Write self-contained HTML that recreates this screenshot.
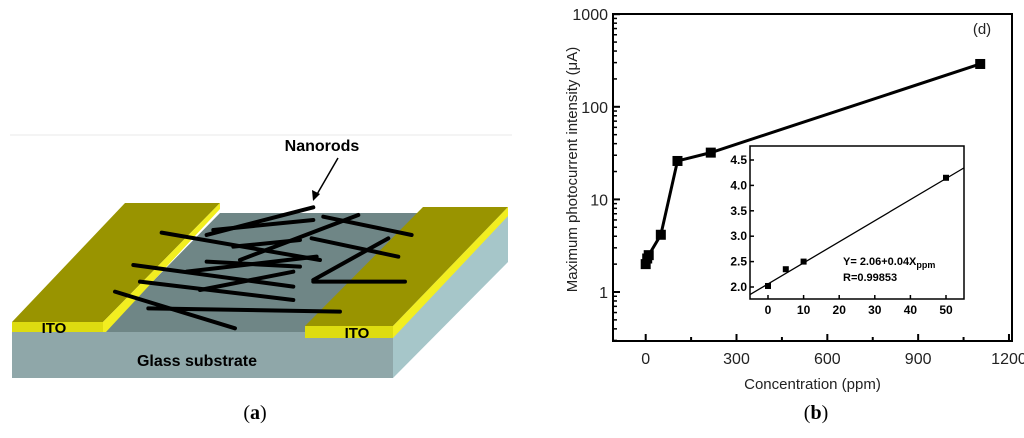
<!DOCTYPE html>
<html><head><meta charset="utf-8"><style>
body{margin:0;background:#fff;width:1024px;height:438px;overflow:hidden;font-family:"Liberation Sans",sans-serif}
svg{position:absolute;left:0;top:0}
</style></head><body>
<svg width="1024" height="438" viewBox="0 0 1024 438">
<g>
  <line x1="10" y1="135" x2="512" y2="135" stroke="#e8e8e8" stroke-width="1"/>
  <polygon points="12,332 393,332 393,378 12,378" fill="#8fa7a9"/>
  <polygon points="393,326 508,207 508,262 393,378" fill="#a6c6c9"/>
  <polygon points="103,332 305,332 423,213 220,213" fill="#6f8686"/>
  <polygon points="12,322 103,322 220,203 125,203" fill="#999400"/>
  <polygon points="12,322 103,322 103,332 12,332" fill="#dedc10"/>
  <polygon points="103,322 220,203 220,209 106,332 103,332" fill="#f2ee20"/>
  <polygon points="305,326 393,326 508,207 423,207" fill="#999400"/>
  <polygon points="305,326 393,326 393,338 305,338" fill="#dedc10"/>
  <polygon points="393,326 508,207 508,216 393,338" fill="#f2ee20"/>
  <g transform="translate(0,120) scale(0.3333)" stroke="#000" stroke-width="12" stroke-linecap="round">
    <line x1="620" y1="345" x2="940" y2="262"/>
    <line x1="640" y1="330" x2="940" y2="300"/>
    <line x1="485" y1="338" x2="960" y2="420"/>
    <line x1="970" y1="290" x2="1235" y2="345"/>
    <line x1="1075" y1="285" x2="720" y2="420"/>
    <line x1="935" y1="355" x2="1195" y2="410"/>
    <line x1="1165" y1="355" x2="940" y2="480"/>
    <line x1="940" y1="485" x2="1215" y2="485"/>
    <line x1="400" y1="435" x2="880" y2="500"/>
    <line x1="420" y1="485" x2="880" y2="540"/>
    <line x1="345" y1="515" x2="705" y2="625"/>
    <line x1="445" y1="565" x2="1020" y2="575"/>
    <line x1="560" y1="455" x2="950" y2="410"/>
    <line x1="620" y1="425" x2="900" y2="440"/>
    <line x1="600" y1="510" x2="880" y2="455"/>
    <line x1="700" y1="380" x2="900" y2="360"/>
  </g>
  <text x="322" y="151" font-size="16" font-weight="bold" text-anchor="middle">Nanorods</text>
  <line x1="338" y1="158" x2="316" y2="196" stroke="#000" stroke-width="1.5"/>
  <polygon points="313,201 312,190 320,194" fill="#000"/>
  <text x="54" y="333" font-size="15" font-weight="bold" text-anchor="middle">ITO</text>
  <text x="357" y="338" font-size="15" font-weight="bold" text-anchor="middle">ITO</text>
  <text x="197" y="366" font-size="16" font-weight="bold" text-anchor="middle">Glass substrate</text>
  <text x="255" y="419" font-size="20" font-family="Liberation Serif,serif" text-anchor="middle">(<tspan font-weight="bold">a</tspan>)</text>
</g>
<g id="chart"></g>
<text x="816" y="419" font-size="20" font-family="Liberation Serif,serif" text-anchor="middle">(<tspan font-weight="bold">b</tspan>)</text>
</svg>
<script>
const concentrations=[0,5,10,50,105,215,1105];
const currents=[2.0,2.3,2.5,4.15,26,32,290];
const xTicks=[0,300,600,900,1200];
const yTicks=[1,10,100,1000];
const insetX=[0,5,10,50];
const insetY=[2.02,2.35,2.5,4.15];
const insetXTicks=[0,10,20,30,40,50];
const insetYTicks=[2.0,2.5,3.0,3.5,4.0,4.5];
const fitIntercept=[2.06];
const fitSlope=[0.0415];

const NS='http://www.w3.org/2000/svg';
const g=document.getElementById('chart');
function mk(t,a,p){const e=document.createElementNS(NS,t);for(const k in a)e.setAttribute(k,a[k]);(p||g).appendChild(e);return e;}
const L=613,T=14,R=1012,B=341;
const xs=v=>L+(v+108)/(1210+108)*(R-L);
const ys=v=>292-Math.log10(v)*92.6;
let f=mk('rect',{x:L,y:T,width:R-L,height:B-T,fill:'none',stroke:'#000','stroke-width':2});


xTicks.forEach((v,i)=>{
  let t=mk('line',{x1:xs(v),x2:xs(v),y1:B,y2:B-7,stroke:'#000','stroke-width':2});
  
  
  if(i<xTicks.length-1){let m=mk('line',{x1:xs(v+150),x2:xs(v+150),y1:B,y2:B-4,stroke:'#000','stroke-width':2});
  
  }
  let l=mk('text',{x:xs(v),y:B+23,'font-size':16,'text-anchor':'middle',fill:'#222'});l.textContent=v;
  
  
});
yTicks.forEach(v=>{
  let t=mk('line',{x1:L,x2:L+7,y1:ys(v),y2:ys(v),stroke:'#000','stroke-width':2});
  
  
  let l=mk('text',{x:L-5,y:ys(v)+6,'font-size':16,'text-anchor':'end',fill:'#222'});l.textContent=v;
  
  
});
[0.1,1,10,100].forEach(d=>{for(let k=2;k<10;k++){const v=d*k;const y=ys(v);if(y<T||y>B)continue;
  let m=mk('line',{x1:L,x2:L+4,y1:y,y2:y,stroke:'#000','stroke-width':1.5});
  
  }});
let yl=mk('text',{x:0,y:0,'font-size':15,'text-anchor':'middle',fill:'#222',transform:`translate(577,${(T+B)/2-8}) rotate(-90)`});
yl.textContent='Maximum photocurrent intensity (μA)';


let xl=mk('text',{x:(L+R)/2,y:389,'font-size':15,'text-anchor':'middle',fill:'#222'});
xl.textContent='Concentration (ppm)';


let pd=mk('text',{x:982,y:34,'font-size':15,'text-anchor':'middle',fill:'#222'});pd.textContent='(d)';


let ln=mk('polyline',{points:concentrations.map((c,i)=>xs(c)+','+ys(currents[i])).join(' '),fill:'none',stroke:'#000','stroke-width':3});


concentrations.forEach((c,i)=>{let p=mk('rect',{x:xs(c)-5,y:ys(currents[i])-5,width:10,height:10,fill:'#000'});
  
  });
const iL=750,iT=146,iR=964,iB=299;
const ixs=v=>768+v*(946-768)/50;
const iys=v=>287-(v-2)*(287-160)/2.5;
let ib=mk('rect',{x:iL,y:iT,width:iR-iL,height:iB-iT,fill:'#fff',stroke:'#000','stroke-width':1.5});


insetXTicks.forEach(v=>{
  let t=mk('line',{x1:ixs(v),x2:ixs(v),y1:iB,y2:iB-4,stroke:'#000','stroke-width':1.5});
  
  
  let l=mk('text',{x:ixs(v),y:iB+15,'font-size':12,'font-weight':'bold','text-anchor':'middle'});l.textContent=v;
  
  
});
insetYTicks.forEach(v=>{
  let t=mk('line',{x1:iL,x2:iL+4,y1:iys(v),y2:iys(v),stroke:'#000','stroke-width':1.5});
  
  
  let l=mk('text',{x:iL-3,y:iys(v)+4,'font-size':12,'font-weight':'bold','text-anchor':'end'});l.textContent=v.toFixed(1);
  
  
});
const fx0=-5,fx1=55;
let fl=mk('line',{x1:ixs(fx0),y1:iys(fitIntercept[0]+fitSlope[0]*fx0),x2:ixs(fx1),y2:iys(fitIntercept[0]+fitSlope[0]*fx1),stroke:'#000','stroke-width':1.3});


insetX.forEach((c,i)=>{let p=mk('rect',{x:ixs(c)-3,y:iys(insetY[i])-3,width:6,height:6,fill:'#000'});
  
  });
let eq=mk('text',{x:843,y:265,'font-size':11,'font-weight':'bold'});
eq.innerHTML='Y= 2.06+0.04X<tspan font-size="9" dy="3">ppm</tspan>';


let rr=mk('text',{x:843,y:281,'font-size':11,'font-weight':'bold'});rr.textContent='R=0.99853';


</script>
</body></html>
